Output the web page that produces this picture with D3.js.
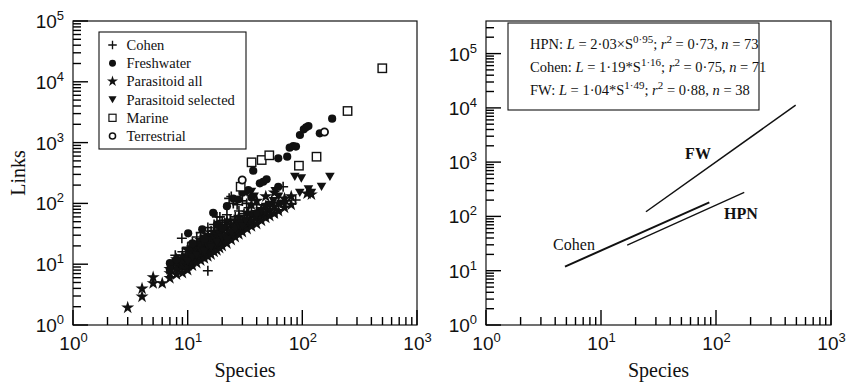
<!DOCTYPE html>
<html>
<head>
<meta charset="utf-8">
<script src="https://cdn.jsdelivr.net/npm/d3@7"></script>
<style>
  body { margin: 0; background: #fff; }
  svg { display: block; font-family: "Liberation Serif", "DejaVu Serif", serif; color: #111; }
</style>
</head>
<body>
<svg id="chart" width="853" height="386"></svg>
<script>
// Links vs species, two log-log panels: food-web scatter (left), fitted power laws (right).

// ---- data: [species, links] ----
const cohen = [
  [7.5,10],[7.8,14],[8,12],[8.5,9],[8.9,26.7],[9,16],[9.5,12],[10,19],[10.5,14],[11,23],
  [11.5,17],[12,28],[12.5,20],[13,33],[13.5,24],[14,30],[15,7.8],[15,40],[15.5,27],[16,35],
  [17,45],[17.5,30],[18,60],[18.5,38],[19.1,60],[19.5,42],[20,52],[21,48],[22,65],[23,121],
  [23.5,55],[24,130],[25,100],[26,60],[27,95],[28,75],[30,110],[31,68],[32.7,100],[34,85],
  [36,70],[38,60],[40,95],[41.5,68],[44,80],[46,62],[50,75],[55,90],[60,70],[68,188],[72,110],[87.4,114]
];
const parasitoidAll = [
  [3,1.93],[4,3.96],[4,2.92],[5,6.1],[5,4.85],[6,4.85],[7,7.1],[7,5.9],[7,8.3],
  [8,6.8],[8,8.5],[8,10.5],[8,12],[9,7.2],[9,9],[9,11],[9,13.5],
  [10,8],[10,9.5],[10,11.5],[10,14],[10,17],[11,9.5],[11,11],[11,13],[11,16],[11,19],
  [12,10.5],[12,12.5],[12,15],[12,18],[12,22],[13,11.5],[13,14],[13,16.5],[13,20],[13,25],
  [14,12.5],[14,15.5],[14,18],[14,22],[15,13.5],[15,16],[15,19.5],[15,24],[15,30],
  [16,14.5],[16,18],[16,21],[16,26],[17,16],[17,19],[17,23],[17,28],[17,34],
  [18,17],[18,21],[18,25],[18,31],[19,18.5],[19,22],[19,27],[19,33],[20,20],[20,24],[20,29],[20,36],
  [22,22],[22,27],[22,32],[22,40],[22,50],[24,25],[24,30],[24,36],[24,45],
  [26,28],[26,33],[26,40],[26,52],[28,31],[28,37],[28,45],[28,60],[30,34],[30,41],[30,50],
  [33,38],[33,46],[33,56],[33,70],[36,42],[36,51],[36,64],[36,95],[40,46],[40,57],[40,72],[40,110],
  [44,52],[44,64],[44,80],[48,58],[48,70],[48,90],[48,130],[52,62],[52,78],[57,68],[57,88],[57,150],
  [62,75],[62,100],[70,85],[70,120],[80,95],[80,130],[110,145],[120,140]
];
const parasitoidSel = [
  [10,11],[11,13],[12,14],[13,17],[14,16],[15,20],[16,19],[18,23],[20,27],[22,25],[24,33],
  [26,38],[28,44],[30,42],[32,52],[33,150],[36,156],[38,130],[40,65],[44,75],[48,88],[52,95],
  [56,110],[58,160],[62,130],[65,98],[70,100],[86,275],[98,258],[95,150],[113,171],[120,150],
  [147,188],[174,275]
];
const freshwater = [
  [7,10.4],[7,8.2],[8,12],[10.1,32.2],[11,22],[13.4,37.5],[14,26],[16.7,70],[18,45],[20,40],
  [22,90],[25,120],[27.6,116],[30,150],[33.8,166],[36,125],[37.3,345],[42.6,214],[45.6,227],
  [48.8,249],[61.7,188],[61.7,552],[73.8,586],[77.6,824],[83.3,879],[88,860],[95.3,1333],
  [103,1656],[108,1780],[113,1875],[142,1422],[182,2473]
];
const marine = [[29,188],[36.1,474],[44.2,517],[51.5,618],[93.4,417],[133,586],[248,3310],[498,16700]];
const terrestrial = [[29.9,243],[156,1494]];

// fitted lines, end points [species, links]
const hpnLine = [[16.9,29.7],[176,277]];
const cohenLine = [[4.86,11.9],[87.5,182]];
const fwLine = [[24.6,122],[493,11200]];

const legendNames = ["Cohen","Freshwater","Parasitoid all","Parasitoid selected","Marine","Terrestrial"];

const svg = d3.select("#chart");
const INK = "#111";

// ---- marker shapes ----
const starPath = d3.symbol(d3.symbolStar, 52)();
const MARKERS = {
  plus:   (g) => g.append("path").attr("d","M-5,0H5M0,-5V5").attr("stroke",INK).attr("stroke-width",1.6).attr("fill","none"),
  circle: (g) => g.append("circle").attr("r",4.1).attr("fill",INK),
  star:   (g) => g.append("path").attr("d",starPath).attr("fill",INK),
  tri:    (g) => g.append("path").attr("d","M-4.8,-4L4.8,-4L0,4.3Z").attr("fill",INK),
  square: (g) => g.append("rect").attr("x",-4.2).attr("y",-4.2).attr("width",8.4).attr("height",8.4)
                  .attr("fill","#fff").attr("stroke",INK).attr("stroke-width",1.4),
  ring:   (g) => g.append("circle").attr("r",3.6).attr("fill","#fff").attr("stroke",INK).attr("stroke-width",1.8)
};

function logTicks(lo, hi) {
  const maj = [], min = [];
  for (let e = Math.floor(Math.log10(lo)); e <= Math.ceil(Math.log10(hi)); e++) {
    const b = Math.pow(10, e);
    if (b >= lo && b <= hi * 1.0001) maj.push(b);
    for (let k = 2; k < 10; k++) { const v = k * b; if (v > lo && v < hi) min.push(v); }
  }
  return { maj, min };
}

function powLabel(sel) {
  sel.each(function (d) {
    const t = d3.select(this);
    t.text("10").append("tspan").attr("dy", -8).attr("font-size", 13).text(Math.round(Math.log10(d)));
  });
}

function drawPanel(x, y, yMax, labelY) {
  const g = svg.append("g");
  const rx = x.range(), ry = y.range();
  const x0 = rx[0], x1 = rx[1], yb = ry[0], yt = ry[1];
  const xt = logTicks(1, 1000), ytk = logTicks(1, yMax);

  // decade labels through d3 axes
  const xa = g.append("g").attr("transform", `translate(0,${yb})`)
    .call(d3.axisBottom(x).tickValues(xt.maj).tickSize(0).tickPadding(12));
  xa.selectAll(".tick text").attr("font-family", null).attr("font-size", 19).attr("fill", INK).call(powLabel);
  const ya = g.append("g").attr("transform", `translate(${x0},0)`)
    .call(d3.axisLeft(y).tickValues(ytk.maj).tickSize(0).tickPadding(9));
  ya.selectAll(".tick text").attr("font-family", null).attr("font-size", 19).attr("fill", INK)
    .attr("dy", "0.34em").call(powLabel);
  xa.select(".domain").remove();
  ya.select(".domain").remove();

  g.append("rect").attr("x", x0).attr("y", yt).attr("width", x1 - x0).attr("height", yb - yt)
    .attr("fill", "none").attr("stroke", INK).attr("stroke-width", 1.2);

  g.append("text").attr("x", (x0 + x1) / 2).attr("y", 377).attr("text-anchor", "middle")
    .attr("font-size", 20).attr("fill", INK).text("Species");
  if (labelY) {
    g.append("text").attr("transform", `translate(25,${(yb + yt) / 2}) rotate(-90)`)
      .attr("text-anchor", "middle").attr("font-size", 20).attr("fill", INK).text(labelY);
  }
  return g;
}

// inward tick marks, drawn last on top: short at 2..9, long at each decade
function drawTicks(x, y, yMax) {
  const rx = x.range(), ry = y.range();
  const x0 = rx[0], yb = ry[0];
  const xt = logTicks(1, 1000), ytk = logTicks(1, yMax);
  const xTicks = xt.min.map((v) => ({ v: v, len: 8 })).concat(xt.maj.map((v) => ({ v: v, len: 15 })));
  const yTicks = ytk.min.map((v) => ({ v: v, len: 8 })).concat(ytk.maj.map((v) => ({ v: v, len: 15 })));
  const tg = svg.append("g").attr("class", "ticks");
  tg.selectAll("path.xt").data(xTicks).join("path").attr("class", "xt")
    .attr("d", (d) => `M${x(d.v).toFixed(1)},${yb}L${x(d.v).toFixed(1)},${yb - d.len}`)
    .attr("stroke", "#000").attr("stroke-width", 1.4).attr("fill", "none");
  tg.selectAll("path.yt").data(yTicks).join("path").attr("class", "yt")
    .attr("d", (d) => `M${x0},${y(d.v).toFixed(1)}L${x0 + d.len},${y(d.v).toFixed(1)}`)
    .attr("stroke", "#000").attr("stroke-width", 1.4).attr("fill", "none");
}

// ---- left panel ----
const xL = d3.scaleLog().domain([1, 1000]).range([73, 417]);
const yL = d3.scaleLog().domain([1, 1e5]).range([325, 21]);
const left = drawPanel(xL, yL, 1e5, "Links");

const seriesL = [
  { data: cohen, m: "plus" },
  { data: parasitoidAll, m: "star" },
  { data: parasitoidSel, m: "tri" },
  { data: freshwater, m: "circle" },
  { data: marine, m: "square" },
  { data: terrestrial, m: "ring" }
];
seriesL.forEach((s) => {
  left.append("g").selectAll("g").data(s.data).join("g")
    .attr("transform", (d) => `translate(${xL(d[0])},${yL(d[1])})`)
    .each(function () { MARKERS[s.m](d3.select(this)); });
});

const legL = left.append("g");
legL.append("rect").attr("x", 99).attr("y", 32).attr("width", 147).attr("height", 117)
  .attr("fill", "#fff").attr("stroke", INK).attr("stroke-width", 1.1);
const legMarks = ["plus","circle","star","tri","square","ring"];
legendNames.forEach((name, i) => {
  const cy = 45 + i * 18.2;
  MARKERS[legMarks[i]](legL.append("g").attr("transform", `translate(112.5,${cy}) scale(0.85)`));
  legL.append("text").attr("x", 126.5).attr("y", cy + 5).attr("font-size", 14.5).attr("fill", INK).text(name);
});

// ---- right panel ----
const xR = d3.scaleLog().domain([1, 1000]).range([486, 831]);
const yR = d3.scaleLog().domain([1, Math.pow(10, 5.6)]).range([325, 21]);
const right = drawPanel(xR, yR, Math.pow(10, 5.6), null);

const line = d3.line().x((d) => xR(d[0])).y((d) => yR(d[1]));
[[fwLine, 1.5], [hpnLine, 1.3], [cohenLine, 2]].forEach(([pts, w]) => {
  right.append("path").attr("d", line(pts)).attr("fill", "none").attr("stroke", INK).attr("stroke-width", w);
});
right.append("text").attr("x", 698).attr("y", 159).attr("text-anchor", "middle").attr("font-size", 16)
  .attr("font-weight", "bold").attr("fill", INK).text("FW");
right.append("text").attr("x", 741).attr("y", 219).attr("text-anchor", "middle").attr("font-size", 16)
  .attr("font-weight", "bold").attr("fill", INK).text("HPN");
right.append("text").attr("x", 574).attr("y", 250).attr("text-anchor", "middle").attr("font-size", 16)
  .attr("fill", INK).text("Cohen");

// legend box with the fitted equations
const eqs = [
  { name: "HPN", a: "2·03×S", b: "0·95", r: "0·73", n: "73" },
  { name: "Cohen", a: "1·19*S", b: "1·16", r: "0·75", n: "71" },
  { name: "FW", a: "1·04*S", b: "1·49", r: "0·88", n: "38" }
];
right.append("rect").attr("x", 508).attr("y", 23).attr("width", 251).attr("height", 87)
  .attr("fill", "#fff").attr("stroke", INK).attr("stroke-width", 1.1);
eqs.forEach((e, i) => {
  const t = right.append("text").attr("x", 530).attr("y", 49 + i * 23).attr("font-size", 14.5).attr("fill", INK);
  t.append("tspan").text(e.name + ": ");
  t.append("tspan").attr("font-style", "italic").text("L");
  t.append("tspan").text(" = " + e.a);
  t.append("tspan").attr("dy", -6).attr("font-size", 11).text(e.b);
  t.append("tspan").attr("dy", 6).text("; ");
  t.append("tspan").attr("font-style", "italic").text("r");
  t.append("tspan").attr("dy", -6).attr("font-size", 11).text("2");
  t.append("tspan").attr("dy", 6).text(" = " + e.r + ", ");
  t.append("tspan").attr("font-style", "italic").text("n");
  t.append("tspan").text(" = " + e.n);
});

drawTicks(xL, yL, 1e5);
drawTicks(xR, yR, Math.pow(10, 5.6));
</script>
</body>
</html>
